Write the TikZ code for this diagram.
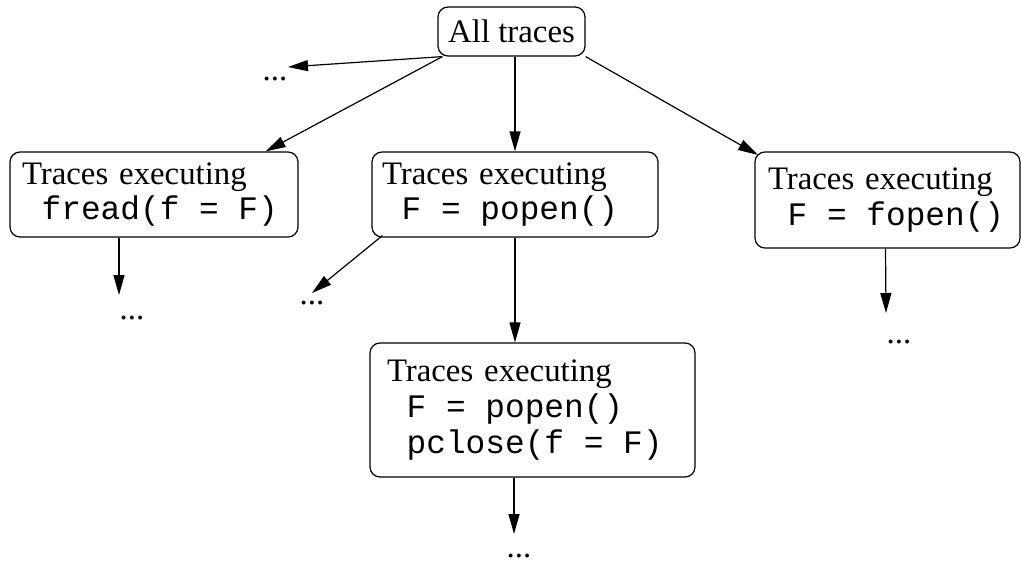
\documentclass[tikz,border=0pt]{standalone}
\usepackage{fontspec}
\setmainfont{Liberation Serif}
\setmonofont{Liberation Mono}
\usetikzlibrary{arrows.meta,calc}
\newcommand{\codeline}[1]{\texttt{\spaceskip=0pt\relax\hspace*{.6em}#1}}
\begin{document}
\begin{tikzpicture}[x=0.5pt,y=-0.5pt,
  font=\fontsize{16.4pt}{17.8pt}\selectfont,
  box/.style={draw,rounded corners=5pt,align=left,inner sep=0pt,line width=0.6pt},
  dots/.style={inner sep=0pt},
  arr/.style={-{Triangle[length=10pt,width=5.5pt]},line width=0.6pt}]
  \useasboundingbox (0,0) rectangle (1021,562);
  \node[box,align=center,minimum width=73.5pt,minimum height=24.5pt] (top) at (511.5,31.5) {All traces};
  \node[box,text width=132pt,minimum width=144pt,minimum height=42.5pt] (fread) at (154,194.5)
    {Traces executing\\\codeline{fread(f = F)}};
  \node[box,text width=133pt,minimum width=143pt,minimum height=42.5pt] (popen) at (515,194.5)
    {Traces executing\\\codeline{F = popen()}};
  \node[box,text width=119.5pt,minimum width=132.5pt,minimum height=48pt] (fopen) at (887.5,200)
    {Traces executing\\\codeline{F = fopen()}};
  \node[box,text width=145.5pt,minimum width=162.5pt,minimum height=67pt] (pclose) at (532.5,410)
    {Traces executing\\\codeline{F = popen()}\\\codeline{pclose(f = F)}};
  \node[dots] (d0) at (275,79) {...};
  \node[dots] (d1) at (132,318) {...};
  \node[dots] (d2) at (312,303) {...};
  \node[dots] (d3) at (899,342) {...};
  \node[dots] (d4) at (519,556) {...};
  \draw[arr] ($(top.south west)+(5,0)$) -- ($(d0)+(13,-12)$);
  \draw[arr] ($(top.south west)+(5,0)$) -- ($(fread.north east)+(-33,0)$);
  \draw[arr] (top.south -| popen.north) -- (popen.north);
  \draw[arr] (top.south east) -- ($(fopen.north west)+(3.5,3.5)$);
  \draw[arr] ($(fread.south)+(-35,0)$) -- ($(d1)+(-13,-23)$);
  \draw[arr] ($(popen.south west)+(11,-2)$) -- ($(d2)+(0,-10)$);
  \draw[arr] (popen.south) -- (popen.south |- pclose.north);
  \draw[arr] ($(fopen.south)+(-2,0)$) -- ($(d3)+(-13,-29)$);
  \draw[arr] ($(pclose.south)+(-18.5,0)$) -- ($(d4)+(-5,-22)$);
\end{tikzpicture}
\end{document}
